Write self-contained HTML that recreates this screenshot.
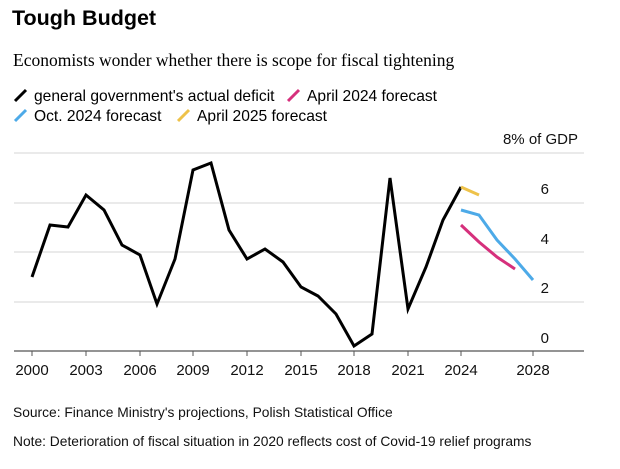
<!DOCTYPE html>
<html><head><meta charset="utf-8"><style>
body{margin:0;width:620px;height:464px;background:#fff;overflow:hidden;font-family:"Liberation Sans",sans-serif}
</style></head><body>
<svg width="620" height="464" xmlns="http://www.w3.org/2000/svg" font-family="Liberation Sans, sans-serif">
<text x="12" y="25" font-size="21.5" font-weight="bold" fill="#000">Tough Budget</text>
<text x="13" y="66" font-size="17.5" font-family="Liberation Serif, serif" fill="#000">Economists wonder whether there is scope for fiscal tightening</text>
<g font-size="15.6" fill="#000">
<line x1="15" y1="101" x2="26" y2="90" stroke="#000" stroke-width="3"/>
<text x="34" y="101">general government's actual deficit</text>
<line x1="288" y1="101" x2="299" y2="90" stroke="#d6307c" stroke-width="3"/>
<text x="307" y="101">April 2024 forecast</text>
<line x1="15" y1="121" x2="26" y2="110" stroke="#4daae8" stroke-width="3"/>
<text x="34" y="121">Oct. 2024 forecast</text>
<line x1="178" y1="121" x2="189" y2="110" stroke="#eec24a" stroke-width="3"/>
<text x="197" y="121">April 2025 forecast</text>
</g>
<g stroke="#e3e3e3" stroke-width="1.5">
<line x1="14" y1="153" x2="584" y2="153"/>
<line x1="14" y1="203" x2="584" y2="203"/>
<line x1="14" y1="252" x2="584" y2="252"/>
<line x1="14" y1="302" x2="584" y2="302"/>
</g>
<line x1="14" y1="351" x2="584" y2="351" stroke="#555" stroke-width="1.2"/>
<g font-size="15" fill="#111" text-anchor="end">
<text x="578" y="144">8% of GDP</text>
<text x="549" y="194">6</text>
<text x="549" y="244">4</text>
<text x="549" y="293">2</text>
<text x="549" y="343">0</text>
</g>
<g stroke="#555" stroke-width="1">
<line x1="32" y1="351" x2="32" y2="356"/><line x1="86" y1="351" x2="86" y2="356"/><line x1="140" y1="351" x2="140" y2="356"/><line x1="193" y1="351" x2="193" y2="356"/><line x1="247" y1="351" x2="247" y2="356"/><line x1="301" y1="351" x2="301" y2="356"/><line x1="354" y1="351" x2="354" y2="356"/><line x1="408" y1="351" x2="408" y2="356"/><line x1="461" y1="351" x2="461" y2="356"/><line x1="533" y1="351" x2="533" y2="356"/>
</g>
<g font-size="15" fill="#111" text-anchor="middle">
<text x="32" y="375">2000</text><text x="86" y="375">2003</text><text x="140" y="375">2006</text><text x="193" y="375">2009</text><text x="247" y="375">2012</text><text x="301" y="375">2015</text><text x="354" y="375">2018</text><text x="408" y="375">2021</text><text x="461" y="375">2024</text><text x="533" y="375">2028</text>
</g>
<polyline fill="none" stroke="#000" stroke-width="3" stroke-linejoin="miter" points="32,277 50,225 68,227 86,195 104,210 122,245 140,255 157,304 175,259 193,170 211,163 229,230 247,259 265,249 283,262 301,287 318,296 336,314 354,346 372,334 390,178 408,309 426,267 443,220 461,187"/>
<polyline fill="none" stroke="#eec24a" stroke-width="3" points="461,187 479,195"/>
<polyline fill="none" stroke="#4daae8" stroke-width="3" points="461,210 479,215 497,240 515,259 533,280"/>
<polyline fill="none" stroke="#d6307c" stroke-width="3" points="461,225 479,242 497,257 515,269"/>
<text x="13" y="417" font-size="13.8" fill="#111">Source: Finance Ministry's projections, Polish Statistical Office</text>
<text x="13" y="446" font-size="13.8" fill="#111">Note: Deterioration of fiscal situation in 2020 reflects cost of Covid-19 relief programs</text>
</svg>
</body></html>
